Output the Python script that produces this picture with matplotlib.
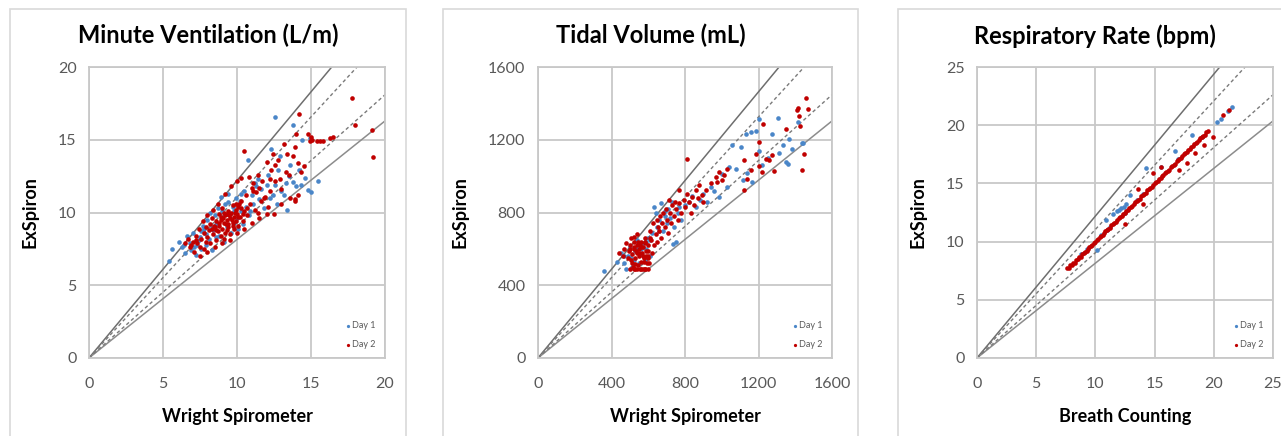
import matplotlib
matplotlib.use("Agg")
import matplotlib.pyplot as plt
from matplotlib.patches import Rectangle

plt.rcParams["font.family"] = ["Lato", "DejaVu Sans"]

# ---- data ----
# Minute Ventilation (L/m)
mv_day1_x = [5.4, 5.6, 6.1, 6.3, 6.5, 6.8, 6.9, 7.0, 7.2, 7.3, 7.5, 7.6, 7.8, 7.9, 8.0, 8.1, 8.2, 8.3,
             8.4, 8.6, 8.7, 8.8, 8.9, 9.0, 9.1, 9.2, 9.3, 9.4, 9.5, 9.6, 9.7, 9.8, 9.9, 10.0, 10.1, 10.2,
             10.3, 10.4, 10.5, 10.6, 10.75, 10.8, 11.0, 11.1, 11.2, 11.4, 11.5, 11.6, 11.8, 12.0, 12.1,
             12.3, 12.4, 12.6, 12.6, 12.7, 12.8, 12.9, 13.0, 13.2, 13.3, 13.4, 13.5, 13.6, 13.75, 13.8,
             14.0, 14.2, 14.3, 14.4, 14.6, 14.8, 15.0, 15.45, 14.9, 9.0, 8.5, 7.7, 6.6,
             7.1, 7.4, 7.9, 8.3, 8.6, 9.4, 9.8, 10.3, 10.9, 11.3, 12.2, 6.4, 7.6]
mv_day1_y = [6.7, 7.5, 8.0, 7.6, 7.2, 7.9, 7.4, 8.6, 7.1, 7.8, 8.3, 7.5, 8.9, 7.8, 9.5, 8.2, 10.0, 7.4,
             8.8, 9.2, 10.3, 8.4, 11.1, 9.7, 8.0, 10.6, 9.0, 11.3, 9.9, 8.6, 10.4, 9.3, 11.0, 9.6, 8.9, 10.8,
             10.1, 9.2, 11.5, 10.4, 13.6, 9.8, 11.2, 10.6, 12.0, 12.3, 10.9, 11.6, 10.3, 11.9, 12.6,
             14.4, 11.2, 16.6, 11.9, 10.6, 12.9, 13.9, 11.5, 11.2, 12.0, 10.2, 12.5, 13.3, 16.0, 12.1,
             11.8, 12.9, 11.9, 15.0, 12.4, 11.55, 11.4, 12.2, 15.1, 10.1, 9.8, 9.1, 8.4,
             7.6, 8.1, 8.5, 9.0, 8.3, 10.7, 10.1, 11.3, 10.1, 11.8, 11.0, 7.8, 8.7]
mv_day2_x = [6.5, 6.7, 6.8, 7.0, 7.1, 7.2, 7.3, 7.4, 7.5, 7.6, 7.7, 7.8, 7.8, 7.9, 8.0, 8.0, 8.1, 8.2,
             8.2, 8.3, 8.4, 8.4, 8.5, 8.6, 8.6, 8.7, 8.7, 8.8, 8.8, 8.9, 8.9, 9.0, 9.0, 9.1, 9.1, 9.2,
             9.2, 9.3, 9.3, 9.4, 9.4, 9.5, 9.5, 9.6, 9.6, 9.7, 9.7, 9.8, 9.8, 9.9, 9.9, 10.0, 10.0, 10.1,
             10.1, 10.2, 10.3, 10.3, 10.4, 10.5, 10.5, 10.6, 10.7, 10.8, 10.9, 11.0, 11.1, 11.2, 11.3,
             11.5, 11.6, 11.7, 11.8, 11.9, 12.0, 12.1, 12.2, 12.2, 12.4, 12.5, 12.6, 12.6, 12.8, 12.95,
             13.0, 13.2, 13.3, 13.4, 13.6, 13.75, 13.9, 13.9, 14.0, 14.1, 14.1, 14.2, 14.3, 14.5, 14.8,
             14.9, 15.1, 15.4, 15.8, 16.25, 16.5, 17.8, 18.0, 19.1, 19.2, 13.9, 7.5, 8.0, 8.5, 9.0, 9.5,
             10.0, 10.5, 11.0, 11.5, 12.0, 8.3, 8.9, 9.4, 9.9, 10.4, 8.6, 9.2, 7.9, 10.7, 11.4,
             9.05, 9.25, 9.45, 9.65, 9.85, 10.05, 9.15, 9.55, 9.75, 10.25, 8.75, 8.45, 9.35, 10.15,
             11.05, 11.45, 12.3, 12.9, 13.5, 7.25, 6.9, 15.0, 15.6]
mv_day2_y = [7.9, 8.2, 7.6, 8.0, 7.3, 8.4, 7.9, 8.9, 7.6, 8.2, 9.4, 8.6, 7.5, 9.0, 8.3, 9.8, 8.8, 9.2,
             7.9, 9.6, 8.5, 10.2, 9.0, 8.1, 9.4, 8.7, 10.6, 9.1, 9.9, 8.4, 9.5, 8.9, 10.3, 9.3, 8.2, 9.8,
             11.3, 8.8, 9.5, 10.1, 9.0, 9.6, 8.5, 10.0, 11.8, 9.3, 10.5, 9.7, 8.9, 10.2, 9.4, 9.9, 12.2, 10.4,
             9.1, 9.7, 10.8, 12.4, 9.4, 14.2, 10.1, 11.2, 9.8, 12.45, 10.6, 11.7, 12.0, 10.2, 11.4,
             11.7, 10.8, 12.2, 11.0, 11.1, 13.5, 10.4, 12.3, 11.5, 14.05, 9.9, 12.2, 13.25, 13.6, 11.65,
             10.6, 14.7, 12.8, 14.0, 11.0, 13.9, 14.5, 10.9, 15.4, 13.4, 11.2, 16.8, 12.8, 13.2, 15.4,
             14.95, 15.0, 14.9, 14.9, 15.1, 15.2, 17.9, 16.0, 15.7, 13.8, 10.8, 7.0, 7.3, 7.6, 7.9, 8.1,
             8.6, 8.9, 9.3, 9.6, 9.9, 8.9, 9.7, 9.2, 10.6, 9.9, 8.8, 8.6, 8.0, 10.3, 10.0,
             9.6, 9.2, 9.8, 9.5, 10.0, 9.7, 10.0, 9.9, 9.1, 10.3, 9.3, 9.1, 9.9, 10.6,
             11.5, 12.6, 12.9, 12.3, 12.6, 8.1, 7.8, 15.2, 14.9]

# Tidal Volume (mL)
tv_day1_x = [360, 430, 450, 470, 480, 490, 500, 510, 520, 530, 540, 550, 560, 570, 580, 590, 600, 610,
             620, 630, 640, 650, 660, 670, 680, 690, 700, 710, 720, 730, 740, 760, 767, 780, 800, 820,
             840, 860, 880, 900, 920, 940, 960, 985, 1000, 1031, 1040, 1058, 1080, 1104, 1113, 1131,
             1140, 1158, 1167, 1185, 1200, 1204, 1220, 1250, 1276, 1304, 1310, 1331, 1350, 1358, 1367,
             1380, 1413, 1436, 1440, 560, 590, 545, 470, 505, 535, 565, 610, 660, 690, 735, 750]
tv_day1_y = [480, 530, 580, 520, 490, 560, 610, 500, 540, 590, 650, 520, 570, 610, 540, 600, 660, 560,
             690, 830, 795, 720, 760, 850, 700, 780, 740, 820, 770, 860, 720, 800, 831, 760, 840, 860,
             890, 830, 870, 900, 860, 941, 920, 886, 1010, 941, 1050, 1169, 1040, 1160, 977, 1233,
             1020, 1242, 968, 1251, 1141, 1315, 1060, 1100, 1233, 1320, 1130, 1169, 1080, 1068, 1205,
             1150, 1297, 1182, 1180, 600, 640, 620, 560, 550, 600, 630, 650, 700, 810, 625, 640]
tv_day2_x = [440, 460, 470, 480, 490, 495, 500, 505, 510, 510, 515, 520, 525, 530, 530, 535, 540, 540,
             545, 550, 550, 555, 560, 560, 565, 570, 570, 575, 580, 585, 590, 595, 600, 600, 610, 615,
             620, 625, 630, 640, 645, 650, 655, 660, 665, 670, 675, 680, 690, 695, 700, 705, 713, 720,
             725, 730, 740, 745, 750, 760, 767, 770, 780, 795, 800, 813, 813, 820, 830, 840, 850, 858,
             870, 876, 894, 900, 913, 940, 967, 976, 985, 1004, 1013, 1030, 1122, 1122, 1140, 1158,
             1185, 1200, 1204, 1218, 1222, 1240, 1258, 1273, 1285, 1349, 1407, 1413, 1422, 1425, 1436,
             1449, 1458, 1467, 520, 540, 560, 580, 600, 575, 545, 590, 610,
             500, 520, 540, 560, 580, 600, 605, 600, 505, 498, 525, 555, 585, 530, 550, 570]
tv_day2_y = [580, 560, 600, 630, 550, 590, 620, 660, 520, 570, 500, 610, 640, 490, 550, 590, 620, 680,
             510, 560, 600, 490, 640, 530, 580, 490, 610, 550, 660, 490, 590, 520, 620, 560, 700, 650,
             580, 740, 620, 680, 760, 640, 720, 700, 780, 660, 740, 800, 720, 822, 760, 690, 868, 800,
             740, 840, 780, 860, 820, 760, 922, 850, 800, 868, 830, 904, 1096, 860, 800, 886, 840, 922,
             880, 950, 895, 860, 922, 960, 995, 968, 1023, 977, 1005, 1040, 1087, 922, 986, 1032,
             1123, 1054, 1187, 1023, 1288, 1096, 1087, 1114, 1028, 1260, 1364, 1375, 1333, 1278, 1036,
             1123, 1430, 1370, 600, 575, 610, 640, 590, 530, 640, 560, 660,
             490, 490, 490, 490, 490, 490, 520, 550, 540, 600, 665, 620, 630, 515, 580, 560]

# Respiratory Rate (bpm)
rr_day1_x = [8.8, 9.3, 10.1, 10.5, 10.87, 11.2, 11.5, 11.8, 12.0, 12.2, 12.4, 12.6, 12.9, 12.5, 13.5,
             14.25, 15.5, 16.7, 18.2, 17.0, 19.0, 20.3, 20.6, 21.5, 21.2, 11.0, 14.0]
rr_day1_y = [8.9, 9.4, 9.25, 10.6, 11.83, 11.3, 12.4, 12.6, 12.7, 12.9, 13.0, 13.2, 14.0, 12.5, 13.6,
             16.3, 16.4, 17.8, 19.2, 17.1, 19.0, 20.3, 20.5, 21.6, 21.2, 11.0, 14.1]
rr_day2_x = [7.6, 7.85, 8.1, 8.35, 8.6, 8.85, 9.1, 9.35, 9.6, 9.85, 10.1, 10.35, 10.6, 10.85, 11.1,
             11.35, 11.6, 11.85, 12.1, 12.35, 12.6, 12.85, 13.1, 13.35, 13.6, 13.85, 14.1, 14.35, 14.6,
             14.85, 15.1, 15.35, 15.6, 15.85, 16.1, 16.35, 16.6, 16.85, 17.1, 17.35, 17.6, 17.85, 18.1,
             18.35, 18.6, 18.85, 19.1, 19.35, 19.5,
             7.75, 8.0, 8.25, 8.5, 8.75, 9.0, 9.25, 9.5, 9.75, 10.0, 10.25, 10.5, 10.75, 11.0, 11.25,
             11.5, 11.75, 12.0, 12.25, 12.5, 12.75, 13.0, 13.25, 13.5, 13.75, 14.0, 14.25, 14.5, 14.75,
             15.0, 15.25, 15.5, 15.75, 16.0, 16.25, 16.5, 16.75, 17.0, 17.25, 17.5, 17.75, 18.0, 18.25,
             18.5, 18.75, 19.0, 19.25,
             12.47, 14.0, 13.6, 14.9, 15.5, 17.1, 17.7, 18.4, 19.2, 19.9, 20.8, 21.3]
rr_day2_y = [7.7, 7.95, 8.15, 8.4, 8.65, 8.9, 9.1, 9.4, 9.6, 9.9, 10.1, 10.4, 10.6, 10.9, 11.1,
             11.4, 11.6, 11.9, 12.1, 12.4, 12.6, 12.9, 13.1, 13.4, 13.6, 13.9, 14.1, 14.4, 14.6,
             14.9, 15.1, 15.4, 15.6, 15.9, 16.1, 16.4, 16.6, 16.9, 17.1, 17.4, 17.6, 17.9, 18.1,
             18.4, 18.6, 18.9, 19.1, 19.4, 19.55,
             7.7, 8.0, 8.2, 8.5, 8.7, 9.0, 9.2, 9.5, 9.7, 10.0, 10.2, 10.5, 10.7, 11.0, 11.2,
             11.5, 11.7, 12.0, 12.2, 12.5, 12.7, 13.0, 13.2, 13.5, 13.7, 14.0, 14.2, 14.5, 14.7,
             15.0, 15.2, 15.5, 15.7, 16.0, 16.2, 16.5, 16.7, 17.0, 17.2, 17.5, 17.7, 18.0, 18.2,
             18.5, 18.7, 19.0, 19.2,
             11.55, 13.2, 14.55, 15.9, 16.4, 16.2, 16.75, 17.6, 18.3, 19.0, 20.85, 21.3]

# agreement lines: solid outer limits, dashed inner limits
solid_slopes = [1.22, 0.815]
dashed_slopes = [1.105, 0.905]

DAY1_COLOR = "#4A86C8"
DAY2_COLOR = "#C00000"
GRID_COLOR = "#C8C8C8"
TICK_COLOR = "#595959"


def _ax_make(ax, title, xlabel, x1, y1, x2, y2, lim, step, title_x):
    ax.set_xlim(0, lim)
    ax.set_ylim(0, lim)
    ax.set_xticks(range(0, lim + 1, step))
    ax.set_yticks(range(0, lim + 1, step))
    ax.grid(True, color=GRID_COLOR, lw=1.3)
    ax.set_axisbelow(True)
    for sp in ax.spines.values():
        sp.set_color(GRID_COLOR)
        sp.set_linewidth(1.3)
    ax.tick_params(length=0, labelsize=11.5, colors=TICK_COLOR, pad=9)
    ax.tick_params(axis="x", pad=14)

    # reference lines from the origin
    ax.plot([0, lim], [0, solid_slopes[0] * lim], color="#6E6E6E", lw=1.1, zorder=2)
    ax.plot([0, lim], [0, solid_slopes[1] * lim], color="#8C8C8C", lw=1.1, zorder=2)
    for s in dashed_slopes:
        ax.plot([0, lim], [0, s * lim], color="#7A7A7A", lw=1.0, ls=(0, (2.5, 2)), zorder=2)

    ax.scatter(x1, y1, s=11, color=DAY1_COLOR, lw=0, label="Day 1", zorder=3)
    ax.scatter(x2, y2, s=11, color=DAY2_COLOR, lw=0, label="Day 2", zorder=4)

    leg = ax.legend(loc="lower right", frameon=False, fontsize=6.5, handlelength=0.6,
                    handletextpad=0.2, labelspacing=1.1, borderaxespad=0.6, markerscale=0.7)
    for t in leg.get_texts():
        t.set_color(TICK_COLOR)

    ax.set_xlabel(xlabel, fontsize=13, fontweight="bold", labelpad=12)
    ax.set_ylabel("ExSpiron", fontsize=13, fontweight="bold", labelpad=14)
    ax.figure.text(title_x, 0.918, title, fontsize=17, fontweight="bold",
                   ha="center", va="center")


fig = plt.figure(figsize=(12.81, 4.36), dpi=100)

# chart area borders
for x0, x1 in [(10, 406), (443, 858), (898, 1295)]:
    fig.patches.append(Rectangle((x0 / 1281, -0.05), (x1 - x0) / 1281, 1.05 - 9 / 436,
                                 transform=fig.transFigure, fill=False,
                                 edgecolor="#D9D9D9", lw=1.2))

ax1 = fig.add_axes([89 / 1281, 0.179, 296 / 1281, 0.667])
ax2 = fig.add_axes([538 / 1281, 0.179, 294 / 1281, 0.667])
ax3 = fig.add_axes([977 / 1281, 0.179, 296 / 1281, 0.667])

_ax_make(ax1, "Minute Ventilation (L/m)", "Wright Spirometer",
         mv_day1_x, mv_day1_y, mv_day2_x, mv_day2_y, 20, 5, 208 / 1281)
_ax_make(ax2, "Tidal Volume (mL)", "Wright Spirometer",
         tv_day1_x, tv_day1_y, tv_day2_x, tv_day2_y, 1600, 400, 651 / 1281)
_ax_make(ax3, "Respiratory Rate (bpm)", "Breath Counting",
         rr_day1_x, rr_day1_y, rr_day2_x, rr_day2_y, 25, 5, 1095 / 1281)

fig.savefig("out.png", dpi=100)
